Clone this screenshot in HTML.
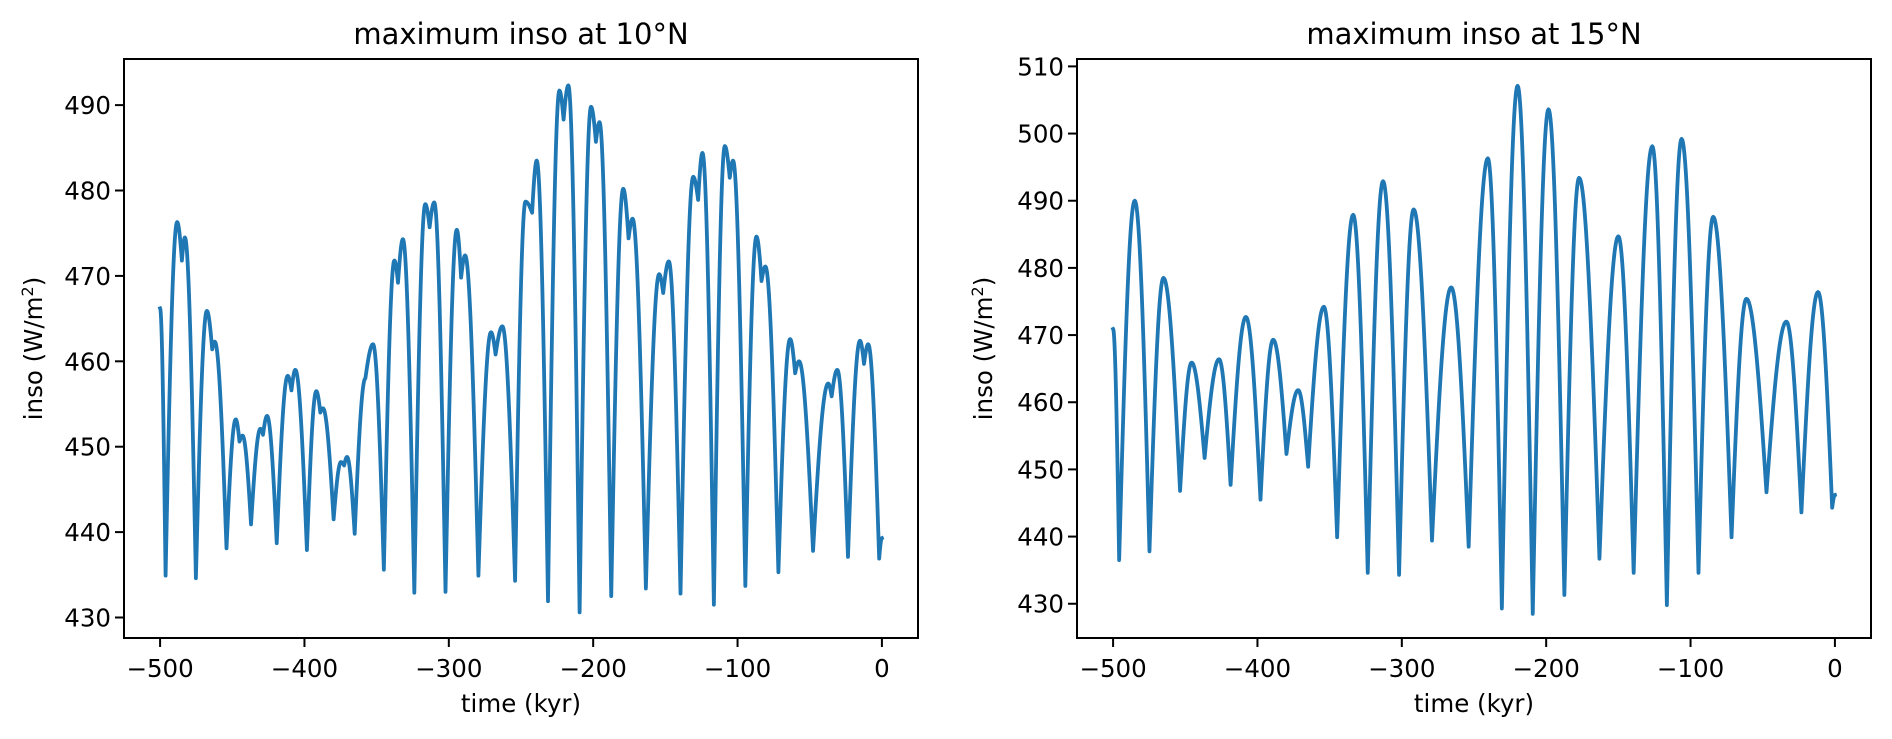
<!DOCTYPE html>
<html><head><meta charset="utf-8">
<style>
html,body{margin:0;padding:0;background:#fff;}
svg{display:block;font-family:"DejaVu Sans","Liberation Sans",sans-serif;}
</style></head>
<body>
<svg id="fig" width="1892" height="739" viewBox="0 0 1892 739" xmlns="http://www.w3.org/2000/svg">
<rect x="0" y="0" width="1892" height="739" fill="#fff"/>
</svg>
<script>
// Panel 1: maximum inso at 10°N (extrema, kyr / W m-2)
const timesA = [-500,-496.2,-488.2,-484.9,-482.8,-475.2,-467.6,-463.9,-462.1,-454.0,-447.6,-445.0,-442.9,-437.0,-430.5,-428.7,-425.9,-419.2,-411.6,-409.0,-406.3,-398.3,-391.8,-389.0,-387.2,-379.8,-374.7,-372.5,-370.5,-365.2,-357.8,-352.5,-345.0,-337.7,-335.2,-331.8,-323.9,-316.3,-313.3,-310.1,-302.3,-294.5,-291.5,-288.7,-279.5,-270.8,-267.6,-262.9,-254.1,-246.9,-242.3,-239.1,-231.3,-223.4,-220.5,-217.2,-209.4,-201.5,-198.1,-195.6,-187.5,-179.2,-175.5,-172.7,-163.5,-154.3,-151.5,-147.6,-139.5,-130.7,-127.3,-124.3,-116.4,-108.8,-105.4,-103.1,-94.6,-86.9,-83.4,-80.7,-71.7,-63.6,-60.1,-57.4,-47.7,-37.2,-34.8,-30.9,-23.5,-15.2,-12.4,-9.5,-1.9,0];
const valuesA = [466.2,434.9,476.3,471.8,474.5,434.6,465.9,461.4,462.3,438.1,453.2,450.6,451.3,440.9,452.1,451.4,453.6,438.7,458.3,456.6,459.0,437.9,456.5,454.0,454.5,441.5,448.2,447.8,448.8,439.8,458.0,462.0,435.6,471.8,469.2,474.3,432.9,478.4,475.7,478.6,433.0,475.4,469.8,472.4,434.9,463.4,460.8,464.1,434.3,478.7,477.4,483.5,431.9,491.7,488.3,492.3,430.6,489.8,485.7,488.0,432.5,480.2,474.4,476.7,433.4,470.2,468.0,471.7,432.8,481.6,478.9,484.4,431.5,485.2,481.5,483.5,433.7,474.6,469.4,471.1,435.3,462.6,458.6,460.0,437.8,457.4,455.9,459.0,437.1,462.4,459.7,462.0,436.9,439.3];
// Panel 2: maximum inso at 15°N
const timesB = [-500,-495.8,-485.0,-474.8,-465.1,-453.6,-445.6,-436.6,-426.6,-418.6,-408.0,-397.9,-389.1,-379.9,-371.8,-364.9,-354.0,-344.8,-333.7,-323.6,-313.0,-301.9,-291.8,-279.1,-265.8,-253.7,-240.4,-230.7,-219.8,-209.3,-198.4,-187.4,-177.2,-163.1,-150.0,-139.4,-126.5,-116.4,-106.2,-94.5,-84.3,-71.6,-61.3,-47.4,-33.6,-23.2,-11.7,-1.9,0];
const valuesB = [470.9,436.5,490.0,437.8,478.5,446.8,465.9,451.7,466.4,447.7,472.7,445.5,469.3,452.3,461.8,450.4,474.2,439.9,487.9,434.6,492.9,434.3,488.7,439.4,477.1,438.5,496.3,429.3,507.1,428.5,503.6,431.3,493.4,436.7,484.7,434.6,498.1,429.8,499.2,434.6,487.6,439.9,475.4,446.6,472.0,443.6,476.4,444.3,446.2];
const xTicks = [-500,-400,-300,-200,-100,0];
const xTickLabels = ["\u2212500","\u2212400","\u2212300","\u2212200","\u2212100","0"];
const yTicksA = [430,440,450,460,470,480,490];
const yTicksB = [430,440,450,460,470,480,490,500,510];

const NS='http://www.w3.org/2000/svg';
const svg=document.getElementById('fig');
function mk(tag,attrs,parent){const e=document.createElementNS(NS,tag);for(const k in attrs)e.setAttribute(k,attrs[k]);(parent||svg).appendChild(e);return e;}

function panel(cfg){
  const g=mk('g',{});
  
  
  const L=cfg.left,R=cfg.right,T=59,B=638;
  const xs=v=>L+(v-cfg.xmin)/(cfg.xmax-cfg.xmin)*(R-L);
  const ys=v=>B-(v-cfg.ymin)/(cfg.ymax-cfg.ymin)*(B-T);
  // line
  let d='';
  const t=cfg.t,v=cfg.v;
  d+='M'+xs(t[0]).toFixed(2)+','+ys(v[0]).toFixed(2);
  for(let i=0;i<t.length-1;i++){
    const t0=t[i],t1=t[i+1],v0=v[i],v1=v[i+1];
    const N=24;
    for(let k=1;k<=N;k++){
      const s=k/N;
      let f;
      if(v0>=v1) f=1-Math.cos(Math.PI*s/2); else f=Math.sin(Math.PI*s/2);
      const tt=t0+(t1-t0)*s, vv=v0+(v1-v0)*f;
      d+=' L'+xs(tt).toFixed(2)+','+ys(vv).toFixed(2);
    }
  }
  const line=mk('path',{d:d,fill:'none',stroke:'#1f77b4','stroke-width':3.8,'stroke-linejoin':'round','stroke-linecap':'square'},g);
  
  
  // frame
  const fr=mk('rect',{x:L,y:T,width:R-L,height:B-T,fill:'none',stroke:'#000','stroke-width':2},g);
  
  
  // x ticks
  xTicks.forEach((tv,i)=>{
    const x=xs(tv);
    mk('line',{x1:x,y1:B,x2:x,y2:B+9,stroke:'#000','stroke-width':2},g);
    const tx=mk('text',{x:x,y:677,'text-anchor':'middle','font-size':24.5,fill:'#000'},g);
    tx.textContent=xTickLabels[i];
    
    
  });
  cfg.yt.forEach(yv=>{
    const y=ys(yv);
    mk('line',{x1:L-9,y1:y,x2:L,y2:y,stroke:'#000','stroke-width':2},g);
    const tx=mk('text',{x:L-13,y:y+9,'text-anchor':'end','font-size':24.5,fill:'#000'},g);
    tx.textContent=String(yv);
    
    
  });
  const title=mk('text',{x:(L+R)/2,y:44,'text-anchor':'middle','font-size':29,fill:'#000'},g);
  title.textContent=cfg.title;
  
  
  const xl=mk('text',{x:(L+R)/2,y:712,'text-anchor':'middle','font-size':24.5,fill:'#000'},g);
  xl.textContent='time (kyr)';
  
  
  const yl=mk('text',{x:0,y:0,'text-anchor':'middle','font-size':24.5,fill:'#000',transform:'translate('+cfg.ylx+','+((T+B)/2)+') rotate(-90)'},g);
  yl.innerHTML='inso (W/m<tspan dy="-9" font-size="16">2</tspan><tspan dy="9">)</tspan>';
  
  
}
panel({name:'panel-10n',left:124,right:918,xmin:-525,xmax:25,ymin:427.6,ymax:495.4,t:timesA,v:valuesA,yt:yTicksA,title:'maximum inso at 10°N',ylx:42});
panel({name:'panel-15n',left:1077,right:1871,xmin:-525,xmax:25,ymin:424.9,ymax:511.1,t:timesB,v:valuesB,yt:yTicksB,title:'maximum inso at 15°N',ylx:992});
</script>
</body></html>
